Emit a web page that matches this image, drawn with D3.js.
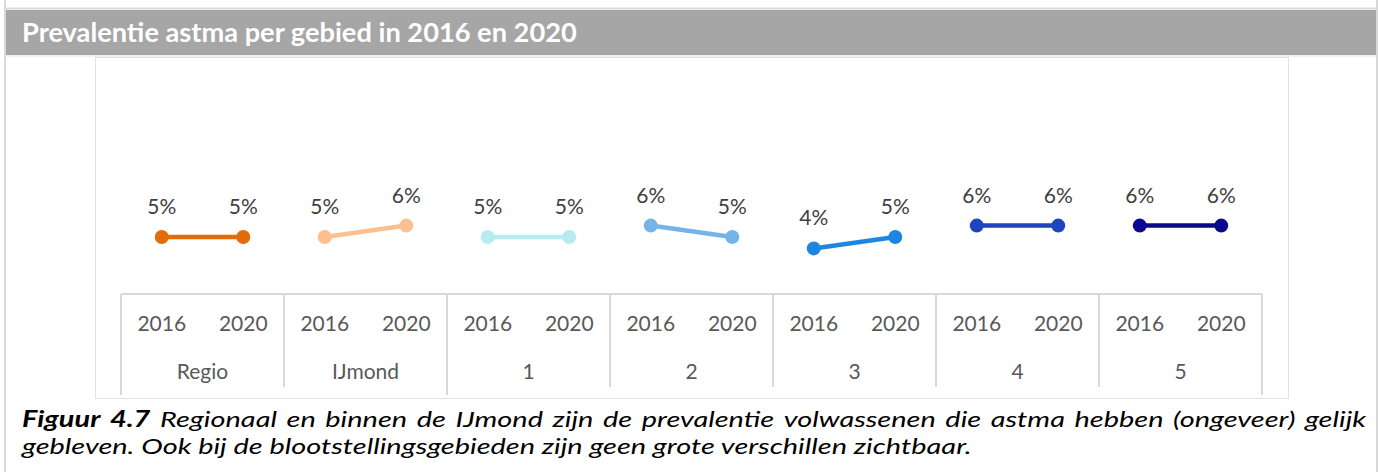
<!DOCTYPE html>
<html>
<head>
<meta charset="utf-8">
<script src="https://cdn.jsdelivr.net/npm/d3@7"></script>
<style>
  body { margin: 0; background: #fff; }
  svg { display: block; }
</style>
</head>
<body>
<svg id="root" width="1379" height="472"></svg>
<script>
// data
const areas = ['Regio', 'IJmond', '1', '2', '3', '4', '5'];
const years = ['2016', '2020'];
const values2016 = [5, 5, 5, 6, 4, 6, 6];
const values2020 = [5, 6, 5, 5, 5, 6, 6];
const colors = ['#E36C0A', '#FAC090', '#B7EBEF', '#75B4EA', '#1E86E0', '#1F45BE', '#0A0A8E'];

const title = 'Prevalentie astma per gebied in 2016 en 2020';
const captionLine1 = 'Regionaal en binnen de IJmond zijn de prevalentie volwassenen die astma hebben (ongeveer) gelijk';
const captionLine2 = 'gebleven. Ook bij de blootstellingsgebieden zijn geen grote verschillen zichtbaar.';

const svg = d3.select('#root');
const font = 'Lato, "Open Sans", sans-serif';

// frame
svg.append('line').attr('x1', 5).attr('x2', 5).attr('y1', 0).attr('y2', 472)
  .attr('stroke', '#d9d9d9').attr('stroke-width', 2);
svg.append('line').attr('x1', 1377).attr('x2', 1377).attr('y1', 0).attr('y2', 472)
  .attr('stroke', '#d9d9d9').attr('stroke-width', 2);
svg.append('line').attr('x1', 5).attr('x2', 1377).attr('y1', 8.5).attr('y2', 8.5)
  .attr('stroke', '#d9d9d9').attr('stroke-width', 2);
svg.append('rect').attr('x', 6).attr('y', 10).attr('width', 1370).attr('height', 45)
  .attr('fill', '#a6a6a6');
svg.append('line').attr('x1', 6).attr('x2', 1376).attr('y1', 56).attr('y2', 56)
  .attr('stroke', '#e3e3e3').attr('stroke-width', 1);

// title, sized to the reference width
const titleText = svg.append('text').attr('x', 22).attr('y', 42)
  .attr('font-family', font).attr('font-weight', 700).attr('font-size', 22)
  .attr('fill', '#fff').text(title);
const tw = titleText.node().getComputedTextLength();
titleText.attr('font-size', 22 * 555 / tw);

// chart area
const area = { left: 95, right: 1288, top: 57, bottom: 398 };
svg.append('rect').attr('x', area.left + 0.5).attr('y', area.top + 0.5)
  .attr('width', area.right - area.left).attr('height', area.bottom - area.top)
  .attr('fill', '#fff').attr('stroke', '#e0e0e0');

const plot = { left: 121, right: 1262, top: 66, bottom: 294 };

const x0 = d3.scaleBand().domain(areas).range([plot.left, plot.right]);
const x1 = d3.scaleBand().domain(years).range([0, x0.bandwidth()]);
const y = d3.scaleLinear().domain([0, 20]).range([plot.bottom, plot.top]);

// category axis box
const axisG = svg.append('g');
axisG.append('line').attr('x1', plot.left).attr('x2', plot.right)
  .attr('y1', plot.bottom).attr('y2', plot.bottom)
  .attr('stroke', '#d9d9d9').attr('stroke-width', 2);
const seps = [plot.left].concat(areas.map(a => x0(a) + x0.bandwidth()));
axisG.selectAll('line.sep').data(seps).join('line').attr('class', 'sep')
  .attr('x1', d => d).attr('x2', d => d)
  .attr('y1', plot.bottom).attr('y2', (d, i) => (i === 0 || i === seps.length - 1 || i === 2) ? 395 : 387)
  .attr('stroke', '#d9d9d9').attr('stroke-width', 2);

const groups = svg.selectAll('g.area').data(areas).join('g').attr('class', 'area')
  .attr('transform', d => `translate(${x0(d)},0)`);

groups.selectAll('text.year').data(years).join('text').attr('class', 'year')
  .attr('x', d => x1(d) + x1.bandwidth() / 2).attr('y', 331)
  .attr('text-anchor', 'middle').attr('font-family', font).attr('font-size', 21)
  .attr('fill', '#595959').text(d => d);

groups.append('text')
  .attr('x', x0.bandwidth() / 2).attr('y', 379)
  .attr('text-anchor', 'middle').attr('font-family', font).attr('font-size', 21)
  .attr('fill', '#595959').text(d => d);

// series
const series = areas.map((a, i) => ({
  area: a,
  color: colors[i],
  points: [
    { year: '2016', value: values2016[i] },
    { year: '2020', value: values2020[i] }
  ]
}));

const px = (s, p) => x0(s.area) + x1(p.year) + x1.bandwidth() / 2;
const line = d3.line();

const sg = svg.selectAll('g.series').data(series).join('g').attr('class', 'series');
sg.append('path')
  .attr('d', s => line(s.points.map(p => [px(s, p), y(p.value)])))
  .attr('fill', 'none').attr('stroke', s => s.color).attr('stroke-width', 4.5);
sg.selectAll('circle').data(s => s.points.map(p => ({ s, p }))).join('circle')
  .attr('cx', d => px(d.s, d.p)).attr('cy', d => y(d.p.value)).attr('r', 7)
  .attr('fill', d => d.s.color);
sg.selectAll('text').data(s => s.points.map(p => ({ s, p }))).join('text')
  .attr('x', d => px(d.s, d.p)).attr('y', d => y(d.p.value) - 23)
  .attr('text-anchor', 'middle').attr('font-family', font).attr('font-size', 21)
  .attr('fill', '#404040').text(d => d.p.value + '%');

// caption: Lato 22px, stretched sideways so line 2 spans ~950px like the reference
const capLeft = 22, capRight = 1366;
const cap = svg.append('g').attr('font-family', font).attr('font-style', 'italic')
  .attr('font-size', 22).attr('fill', '#000');

const l2 = cap.append('text').attr('x', 0).attr('y', 454).text(captionLine2);
const k = 950 / l2.node().getComputedTextLength();
cap.attr('transform', `translate(${capLeft},0) scale(${k},1)`);

// line 1, justified by spreading word gaps
const words1 = [{ t: 'Figuur', b: true }, { t: '4.7', b: true }]
  .concat(captionLine1.split(' ').map(t => ({ t, b: false })));
const wNodes = words1.map(w => cap.append('text').attr('y', 427)
  .attr('font-weight', w.b ? 700 : 400).text(w.t));
const widths = wNodes.map(n => n.node().getComputedTextLength());
const lineW = (capRight - capLeft) / k;
const gap = (lineW - d3.sum(widths)) / (words1.length - 1);
let cx = 0;
wNodes.forEach((n, i) => { n.attr('x', cx); cx += widths[i] + gap; });
</script>
</body>
</html>
